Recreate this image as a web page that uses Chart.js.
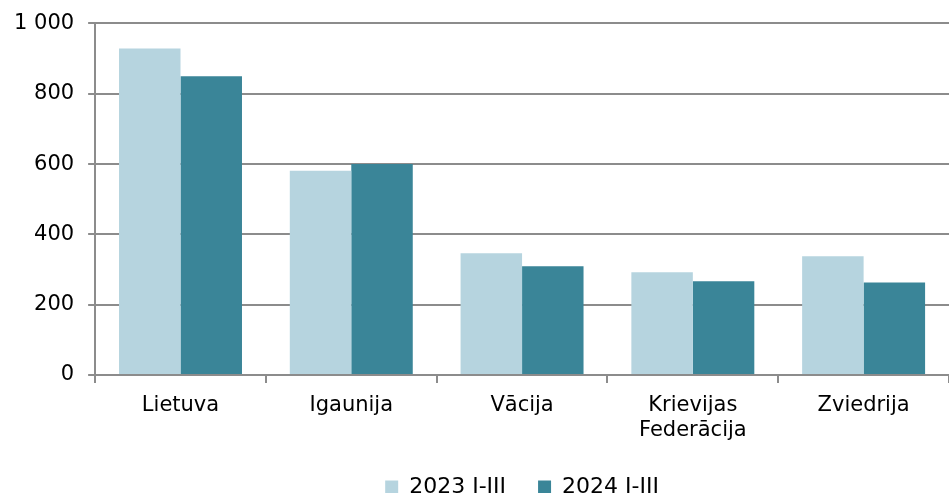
<!DOCTYPE html>
<html>
<head>
<meta charset="utf-8">
<script src="https://cdn.jsdelivr.net/npm/chart.js@4/dist/chart.umd.min.js"></script>
<style>
  html, body { margin: 0; padding: 0; background: #fff; }
  #wrap { width: 949px; height: 493px; }
</style>
</head>
<body>
<div id="wrap"><canvas id="chart"></canvas></div>
<script>
// valstis un vērtības
const categories = ['Lietuva', 'Igaunija', 'Vācija', ['Krievijas', 'Federācija'], 'Zviedrija'];
const series2023 = [929, 581, 346, 292, 338];
const series2024 = [850, 600, 309, 267, 263];
const seriesLabels = ['2023 I-III', '2024 I-III'];
const yTicks = [0, 200, 400, 600, 800, 1000];

const FAMILY = "'DejaVu Sans', Verdana, sans-serif";
const GRID = '#8c8c8c';

const ctx = document.getElementById('chart').getContext('2d');
new Chart(ctx, {
  type: 'bar',
  data: {
    labels: categories,
    datasets: [
      { label: seriesLabels[0], data: series2023, backgroundColor: '#b6d4df' },
      { label: seriesLabels[1], data: series2024, backgroundColor: '#3a8598' }
    ]
  },
  options: {
    responsive: true,
    maintainAspectRatio: false,
    animation: false,
    layout: { padding: { top: 22, right: 0, left: 0, bottom: -15 } },
    datasets: { bar: { categoryPercentage: 0.72, barPercentage: 1.0 } },
    plugins: {
      tooltip: { enabled: false },
      legend: {
        position: 'bottom',
        fullSize: false,
        labels: {
          color: '#000',
          font: { family: FAMILY, size: 22 },
          boxWidth: 13,
          boxHeight: 13,
          padding: 32
        }
      }
    },
    scales: {
      x: {
        afterFit: axis => { axis.height = 69; },
        grid: {
          offset: true,
          drawOnChartArea: false,
          color: GRID,
          lineWidth: 2,
          tickLength: 8
        },
        border: { color: GRID, width: 2 },
        ticks: { color: '#000', font: { family: FAMILY, size: 21, lineHeight: 1.2 }, padding: 10, maxRotation: 0 }
      },
      y: {
        min: 0,
        max: 1000,
        afterBuildTicks: axis => { axis.ticks = yTicks.map(v => ({ value: v })); },
        grid: { color: GRID, lineWidth: 2, tickLength: 7 },
        border: { color: GRID, width: 2 },
        ticks: {
          color: '#000',
          font: { family: FAMILY, size: 21, lineHeight: 0.9 },
          padding: 14,
          callback: v => String(v).replace(/\B(?=(\d{3})+(?!\d))/g, ' ')
        }
      }
    }
  }
});
</script>
</body>
</html>
